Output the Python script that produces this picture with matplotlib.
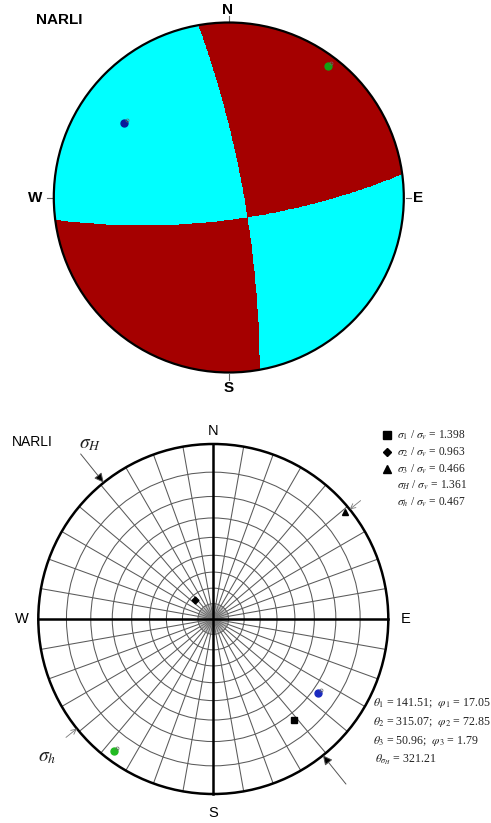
import numpy as np
import matplotlib
matplotlib.use('Agg')
import matplotlib.pyplot as plt
import matplotlib.transforms as mtransforms
from matplotlib.patches import Circle
from matplotlib.colors import ListedColormap

plt.rcParams['mathtext.fontset'] = 'stix'
plt.rcParams['font.family'] = ['Liberation Sans', 'DejaVu Sans']

site = 'NARLI'

# principal stresses (trend, plunge in degrees) and ratios to sigma_v
stress_trend = [141.51, 315.07, 50.96]
stress_plunge = [17.05, 72.85, 1.79]
stress_ratio = [1.398, 0.963, 0.466]
stress_marker = ['s', 'D', '^']
stress_msize = [5, 3.5, 5]
sH_ratio = 1.361
sh_ratio = 0.467
sH_azimuth = 321.21

# P and T axes of the focal mechanism (trend, plunge)
p_axis = (125.3, 17.5)
t_axis = (217.0, 3.4)

W, H = 491, 823
R = 175.0   # radius of the nets in pixels


def stereo(trend, plunge):
    # lower hemisphere, equal angle
    t = np.radians(trend)
    r = np.tan(np.radians(90 - np.asarray(plunge)) / 2)
    return r * np.sin(t), r * np.cos(t)


def unit_vec(trend, plunge):
    t, p = np.radians(trend), np.radians(plunge)
    return np.array([np.cos(p) * np.cos(t), np.cos(p) * np.sin(t), np.sin(p)])


def panel(cx, cy, y0, y1):
    ax = fig.add_axes([0, 1 - y1 / H, 1, (y1 - y0) / H])
    ax.set_xlim(-cx / R, (W - cx) / R)
    ax.set_ylim((cy - y1) / R, (cy - y0) / R)
    ax.axis('off')
    return ax


def with_dot(ax, x, y, color):
    ax.plot(x, y, 'o', ms=5, color=color, mec=color, zorder=6)
    off = ax.transData + mtransforms.ScaledTranslation(2.5 / 100, 3 / 100, fig.dpi_scale_trans)
    ax.plot(x, y, 'o', ms=2.2, mfc='none', mec='#666666', mew=0.5, transform=off, zorder=7)


fig = plt.figure(figsize=(W / 100, H / 100), dpi=100)

# ---------------- top: beach ball (upper hemisphere) ----------------
ax1 = panel(228.8, 197.5, 0, 400)
n = 900
g = np.linspace(-1, 1, n)
X, Y = np.meshgrid(g, g)
rr = np.hypot(X, Y)
trend = np.degrees(np.arctan2(-X, -Y))
plunge = 90 - 2 * np.degrees(np.arctan(rr))
V = unit_vec(trend, plunge)
P = unit_vec(*p_axis)
T = unit_vec(*t_axis)
pol = (np.tensordot(T, V, 1)) ** 2 - (np.tensordot(P, V, 1)) ** 2
field = np.where(pol > 0, 1.0, 0.0)
field = np.ma.masked_where(rr > 1.01, field)
im = ax1.imshow(field, extent=[-1, 1, -1, 1], origin='lower',
                cmap=ListedColormap(['#00FFFF', '#A50000']), vmin=0, vmax=1,
                interpolation='nearest', zorder=1)
clip = Circle((0, 0), 1, transform=ax1.transData)
im.set_clip_path(clip)
ax1.add_patch(Circle((0, 0), 1, fill=False, ec='black', lw=1.6, zorder=5))

for az in [0, 90, 180, 270]:
    s, c = np.sin(np.radians(az)), np.cos(np.radians(az))
    ax1.plot([1.01 * s, 1.04 * s], [1.01 * c, 1.04 * c], color='#666666', lw=0.8)

px, py = stereo(*p_axis)
tx, ty = stereo(*t_axis)
with_dot(ax1, -px, -py, '#0a1a9a')
with_dot(ax1, -tx, -ty, '#14a014')

ax1.text(-1.102, 1.014, site, ha='left', va='center', fontsize=11, fontweight='bold')
ax1.text(-0.006, 1.071, 'N', ha='center', va='center', fontsize=11, fontweight='bold')
ax1.text(0, -1.089, 'S', ha='center', va='center', fontsize=11, fontweight='bold')
ax1.text(-1.107, 0, 'W', ha='center', va='center', fontsize=11, fontweight='bold')
ax1.text(1.081, 0, 'E', ha='center', va='center', fontsize=11, fontweight='bold')

# ---------------- bottom: stress directions on polar net ----------------
ax2 = panel(213.3, 619, 400, 823)
grid_c = '#5a5a5a'
for p in range(10, 90, 10):
    r = np.tan(np.radians(90 - p) / 2)
    ax2.add_patch(Circle((0, 0), r, fill=False, ec=grid_c, lw=0.75))
for az in range(0, 360, 10):
    s, c = np.sin(np.radians(az)), np.cos(np.radians(az))
    ax2.plot([0, s], [0, c], color=grid_c, lw=0.75)
r80 = np.tan(np.radians(5))
for az in np.arange(0, 360, 5):
    s, c = np.sin(np.radians(az)), np.cos(np.radians(az))
    ax2.plot([0, r80 * s], [0, r80 * c], color='#808080', lw=0.35)
ax2.plot([-1, 1], [0, 0], color='black', lw=1.8)
ax2.plot([0, 0], [-1, 1], color='black', lw=1.8)
ax2.add_patch(Circle((0, 0), 1, fill=False, ec='black', lw=1.8, zorder=5))

# sigma_H arrows (filled) and sigma_h arrows (open)
for az in [sH_azimuth, sH_azimuth + 180]:
    s, c = np.sin(np.radians(az)), np.cos(np.radians(az))
    ax2.annotate('', xy=(s, c), xytext=(1.21 * s, 1.21 * c),
                 arrowprops=dict(arrowstyle='-|>', ec='#555555', fc='black', lw=0.7,
                                 mutation_scale=14, shrinkA=0, shrinkB=0), zorder=6)
for az in [sH_azimuth + 90, sH_azimuth + 270]:
    s, c = np.sin(np.radians(az)), np.cos(np.radians(az))
    ax2.annotate('', xy=(s, c), xytext=(1.08 * s, 1.08 * c),
                 arrowprops=dict(arrowstyle='->', color='#777777', lw=0.6,
                                 mutation_scale=9, shrinkA=0, shrinkB=0), zorder=6)

for tr, pl, mk, ms in zip(stress_trend, stress_plunge, stress_marker, stress_msize):
    x, y = stereo(tr, pl)
    ax2.plot(x, y, mk, ms=ms, color='black', zorder=7)
with_dot(ax2, px, py, '#1a2ac0')
with_dot(ax2, tx, ty, '#22bb22')

ax2.text(-1.152, 1.011, site, ha='left', va='center', fontsize=10)
ax2.text(0, 1.076, 'N', ha='center', va='center', fontsize=10.5)
ax2.text(0, -1.109, 'S', ha='center', va='center', fontsize=10.5)
ax2.text(-1.095, 0, 'W', ha='center', va='center', fontsize=10.5)
ax2.text(1.101, 0, 'E', ha='center', va='center', fontsize=10.5)
ax2.text(-0.705, 1.0, r'$\sigma_H$', ha='center', va='center', fontsize=14, color='#222222')
ax2.text(-0.951, -0.789, r'$\sigma_h$', ha='center', va='center', fontsize=14, color='#222222')

serif = ['Liberation Serif', 'DejaVu Serif']

# ratio legend
rows = [1.051, 0.953, 0.857, 0.766, 0.670]
labels = [r'$\sigma_%d$ / $\sigma_v$ = %.3f' % (i + 1, v) for i, v in enumerate(stress_ratio)]
labels += [r'$\sigma_H$ / $\sigma_v$ = %.3f' % sH_ratio, r'$\sigma_h$ / $\sigma_v$ = %.3f' % sh_ratio]
for i, (yy, lab) in enumerate(zip(rows, labels)):
    if i < 3:
        ax2.plot(0.991, yy, stress_marker[i], ms=[5.5, 4, 6][i], color='black', clip_on=False)
    ax2.text(1.052, yy, lab, ha='left', va='center', fontsize=8.3, color='#222222', family=serif)

# orientation block
rows = [-0.482, -0.587, -0.697, -0.806]
for i in range(3):
    lab = r'$\theta_%d$ = %.2f;  $\varphi_%d$ = %.2f' % (i + 1, stress_trend[i], i + 1, stress_plunge[i])
    ax2.text(0.914, rows[i], lab, ha='left', va='center', fontsize=8.6, color='#222222', family=serif)
ax2.text(0.924, rows[3], r'$\theta_{\sigma_H}$ = %.2f' % sH_azimuth, ha='left', va='center',
         fontsize=8.6, color='#222222', family=serif)

fig.savefig('out.png', dpi=100, facecolor='white')
